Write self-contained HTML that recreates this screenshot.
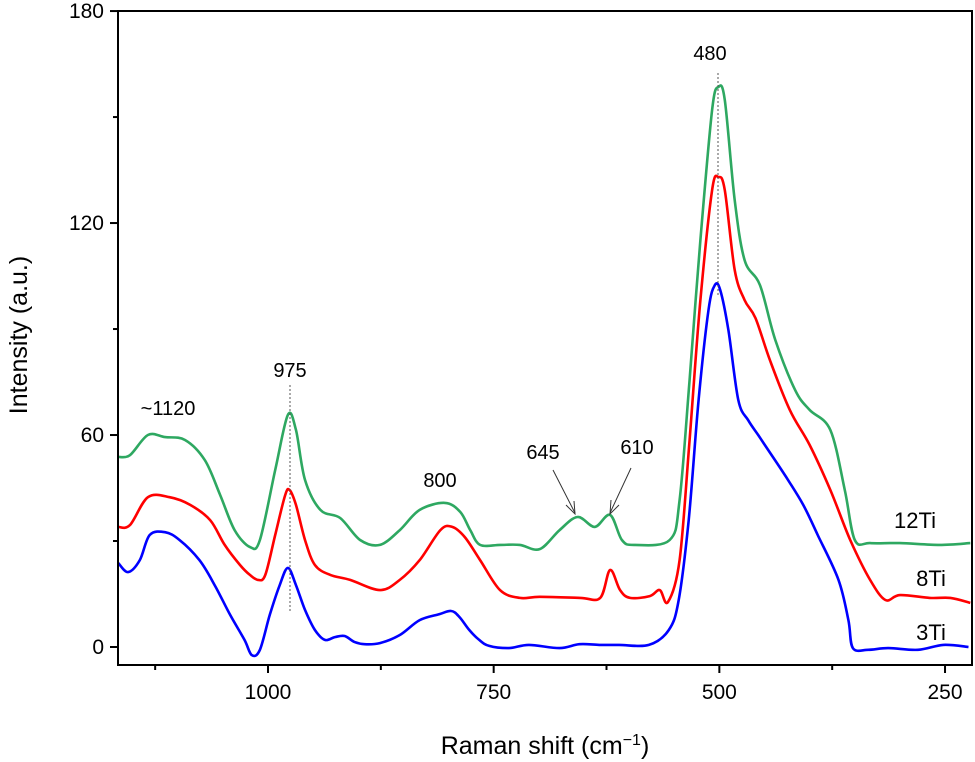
<!DOCTYPE html>
<html><head><meta charset="utf-8"><style>
html,body{margin:0;padding:0;background:#fff;}
svg{display:block;font-family:"Liberation Sans",Arial,sans-serif;}
</style></head><body>
<svg id="chart" width="975" height="762" viewBox="0 0 975 762" xmlns="http://www.w3.org/2000/svg">
<g id="marks"></g>
<g id="axes"></g>
<rect x="118" y="11" width="854" height="654" fill="none" stroke="#000" stroke-width="2"/>
<text transform="translate(27,335) rotate(-90)" text-anchor="middle" font-size="25">Intensity (a.u.)</text>
<text x="545" y="754" text-anchor="middle" font-size="25">Raman shift (cm<tspan font-size="16" dy="-9">−1</tspan><tspan dy="9">)</tspan></text>
<g font-size="20" text-anchor="middle">
<text x="168" y="415">~1120</text>
<text x="290" y="377">975</text>
<text x="440" y="487">800</text>
<text x="543" y="459">645</text>
<text x="637" y="454">610</text>
<text x="710" y="60">480</text>
<line x1="290" y1="385" x2="290" y2="612" stroke="#555" stroke-width="1" stroke-dasharray="2,2"/>
<line x1="718" y1="73" x2="718" y2="295" stroke="#555" stroke-width="1" stroke-dasharray="2,2"/>
<line x1="553" y1="470" x2="575" y2="513" stroke="#333" stroke-width="1"/>
<polyline points="566,505 575,514 574,501" fill="none" stroke="#333" stroke-width="1"/>
<line x1="631" y1="468" x2="610" y2="513" stroke="#333" stroke-width="1"/>
<polyline points="611,500 610,514 619,505" fill="none" stroke="#333" stroke-width="1"/>
<text x="915" y="528" font-size="22">12Ti</text>
<text x="931" y="586" font-size="22">8Ti</text>
<text x="931" y="640" font-size="22">3Ti</text>
</g>
</svg>
<script>
const xTicks=[1000,750,500,250];
const xMinor=[1125,875,625,375];
const yTicks=[0,60,120,180];
const yMinor=[30,90,150];
const blueX=[1166,1155,1142,1131,1114,1098,1076,1059,1042,1026,1018,1009,998,987,978,969,959,948,937,926,915,904,893,876,854,832,810,797,788,777,766,755,733,711,677,655,633,611,578,556,545,534,523,512,505,499,490,479,468,457,446,424,407,391,368,357,352,335,313,280,252,224];
const blueY=[23.8,21.2,24.6,31.7,32.5,30.3,24.6,17.5,9.1,2.0,-2.3,-0.8,9.1,17.5,22.4,17.5,10.5,4.8,2.0,2.8,3.1,1.4,0.8,1.1,3.4,7.6,9.3,10.2,8.5,4.8,2.0,0.3,-0.3,0.6,-0.3,0.8,0.6,0.6,0.6,4.8,13.3,35.9,69.9,95.4,102.4,101,89.7,69.9,64.2,60,55.8,47.3,40.2,31.7,19,7.6,-0.3,-0.8,-0.3,-0.8,0.6,0];
const redX=[1166,1153,1133,1109,1086,1064,1048,1031,1020,1011,1003,992,981,976,969,959,948,931,909,876,854,832,809,796,782,765,743,721,699,654,632,621,610,599,577,566,557,544,533,521,508,501,494,483,472,460,444,422,400,377,355,333,316,300,267,244,222];
const redY=[34,34.5,42.4,42.4,40.2,35.9,28.9,23.2,20.4,19,20.4,31.7,43,44.4,40.2,30.3,23.2,20.4,19,16.1,19,24.6,33.1,34,31.1,24.6,16.1,13.9,14.2,13.9,13.9,21.8,16.1,13.9,14.4,16.1,12.7,24.6,58.6,98.2,129.3,133,129.3,106.7,98.2,93.1,81.2,67.1,57.2,44.4,30.3,19,13.3,14.7,13.9,13.9,12.5];
const greenX=[1166,1153,1133,1114,1092,1070,1053,1037,1020,1009,992,978,969,959,942,920,898,876,854,832,804,787,776,765,743,721,699,677,657,638,621,608,594,555,544,533,521,508,501,494,483,472,455,438,416,400,377,361,350,333,300,256,222];
const greenY=[53.8,54.3,60,59.4,58.6,52.9,43,33.1,28.3,30.3,50.1,65.7,61.4,47.3,38.8,36.5,30.3,28.9,33.1,38.8,40.8,38.2,33.1,28.9,28.9,28.9,27.7,33.1,36.8,34,37.4,30.3,28.9,30.3,41.6,75.6,115.2,152,158.5,154.8,126.5,109.5,102.4,86.9,72.7,67.1,61.4,44.4,30.3,29.4,29.4,28.9,29.4];

const NS="http://www.w3.org/2000/svg";
function xPos(v){return 268+(1000-v)*0.9027;}
function yPos(v){return 647-v*3.533;}
const axes=document.getElementById('axes');
const marks=document.getElementById('marks');
function mk(tag,attrs,parent){const e=document.createElementNS(NS,tag);for(const k in attrs)e.setAttribute(k,attrs[k]);parent.appendChild(e);return e;}
xTicks.forEach(t=>{
  const l=mk('line',{x1:xPos(t),x2:xPos(t),y1:665,y2:673,stroke:'#000','stroke-width':2},axes);
  
  
  const tx=mk('text',{x:xPos(t),y:699,'text-anchor':'middle','font-size':21},axes);
  tx.textContent=t;
  
  
});
xMinor.forEach(t=>{
  const l=mk('line',{x1:xPos(t),x2:xPos(t),y1:665,y2:670,stroke:'#000','stroke-width':2},axes);
  
  
});
yTicks.forEach(t=>{
  const l=mk('line',{x1:110,x2:118,y1:yPos(t),y2:yPos(t),stroke:'#000','stroke-width':2},axes);
  
  
  const tx=mk('text',{x:104,y:yPos(t)+7,'text-anchor':'end','font-size':21},axes);
  tx.textContent=t;
  
  
});
yMinor.forEach(t=>{
  const l=mk('line',{x1:113,x2:118,y1:yPos(t),y2:yPos(t),stroke:'#000','stroke-width':2},axes);
  
  
});
function smoothPath(xs,ys){
  const p=xs.map((x,i)=>[xPos(x),yPos(ys[i])]);
  let d='M'+p[0][0].toFixed(1)+','+p[0][1].toFixed(1);
  for(let i=0;i<p.length-1;i++){
    const p0=p[Math.max(0,i-1)],p1=p[i],p2=p[i+1],p3=p[Math.min(p.length-1,i+2)];
    const c1=[p1[0]+(p2[0]-p0[0])/6,p1[1]+(p2[1]-p0[1])/6];
    const c2=[p2[0]-(p3[0]-p1[0])/6,p2[1]-(p3[1]-p1[1])/6];
    d+=' C'+c1.map(v=>v.toFixed(1)).join(',')+' '+c2.map(v=>v.toFixed(1)).join(',')+' '+p2.map(v=>v.toFixed(1)).join(',');
  }
  return d;
}
const s1=mk('path',{d:smoothPath(blueX,blueY),fill:'none',stroke:'#0000ff','stroke-width':2.6,'stroke-linejoin':'round'},marks);


const s2=mk('path',{d:smoothPath(redX,redY),fill:'none',stroke:'#ff0000','stroke-width':2.6,'stroke-linejoin':'round'},marks);


const s3=mk('path',{d:smoothPath(greenX,greenY),fill:'none',stroke:'#2ea861','stroke-width':2.6,'stroke-linejoin':'round'},marks);


</script>
</body></html>
